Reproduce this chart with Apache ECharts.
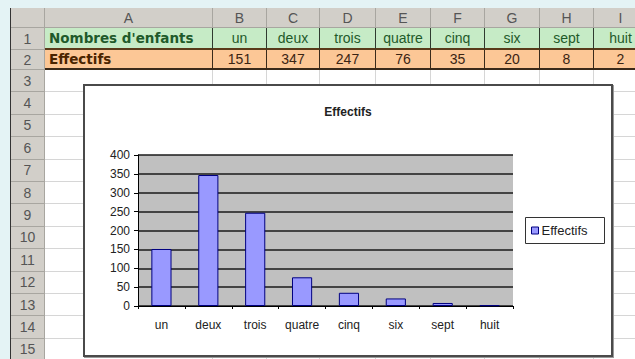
<!DOCTYPE html>
<html>
<head>
<meta charset="utf-8">
<script src="https://cdn.jsdelivr.net/npm/echarts@6/dist/echarts.min.js"></script>
<style>
  html, body { margin: 0; padding: 0; }
  body { width: 635px; height: 359px; overflow: hidden; background: #e4f3f5; position: relative;
         font-family: "Liberation Sans", Arial, sans-serif; }
  .cell { position: absolute; box-sizing: border-box; white-space: nowrap; overflow: hidden;
          display: flex; align-items: center; justify-content: center; }
  .hdr { background: #d2cfc9; color: #555; font-size: 14px;
         border-right: 1px solid #a8a6a0; border-bottom: 1px solid #a8a6a0; }
  .blank { background: #fff; border-right: 1px solid #d6d6d6; border-bottom: 1px solid #d6d6d6; }
  .r1 { background: #c6ebc6; color: #1f5a2a; font-size: 14px;
        border-right: 1px solid #2f3a2f; border-bottom: 2px solid #5a3a1a; }
  .r2 { background: #fcc796; color: #3a2414; font-size: 14px;
        border-right: 1px solid #3a2a1a; border-bottom: 2px solid #3a2a1a; }
  .lbl { font-family: "DejaVu Sans", sans-serif; font-weight: bold; font-size: 13.5px;
         justify-content: flex-start; padding-left: 4px; }
  #sheet { position: absolute; left: 10px; top: 8px; right: -20px; bottom: -20px;
           border-left: 1px solid #333; border-top: 1px solid #333; background: #fff; }
  #chartBox { position: absolute; left: 83px; top: 84px; width: 530px; height: 273px;
              box-sizing: border-box; border: 2px solid #4a4a4a; background: #fff;
              box-shadow: 1px 1px 0 #9a9a9a; }
  #chart { width: 526px; height: 269px; }
</style>
</head>
<body>
<div id="sheet"></div>
<div id="chartBox"><div id="chart"></div></div>
<script>
// Worksheet content
const columnLetters = ['A', 'B', 'C', 'D', 'E', 'F', 'G', 'H', 'I'];
const rowNumbers = [1, 2, 3, 4, 5, 6, 7, 8, 9, 10, 11, 12, 13, 14, 15];
const rowLabel1 = "Nombres d'enfants";
const rowLabel2 = 'Effectifs';

// Chart data
const categories = ['un', 'deux', 'trois', 'quatre', 'cinq', 'six', 'sept', 'huit'];
const effectifs = [151, 347, 247, 76, 35, 20, 8, 2];
const seriesName = 'Effectifs';

// Grid geometry of the sheet (page pixels)
const colEdges = [11, 45, 213, 267, 320, 376, 431, 485, 540, 594, 648];
const rowEdges = [8, 28, 50, 70];
for (let k = 1; k <= 13; k++) rowEdges.push(70 + 22.4 * k);

const sheet = document.getElementById('sheet');
function addCell(cls, x0, y0, x1, y1, text, extra) {
  const d = document.createElement('div');
  d.className = 'cell ' + cls;
  d.style.left = (x0 - 11) + 'px';
  d.style.top = (y0 - 9) + 'px';
  d.style.width = (x1 - x0) + 'px';
  d.style.height = (y1 - y0) + 'px';
  if (text !== undefined) d.textContent = text;
  if (extra) Object.assign(d.style, extra);
  sheet.appendChild(d);
  return d;
}

// corner + column headers
addCell('hdr', colEdges[0], rowEdges[0], colEdges[1], rowEdges[1]);
columnLetters.forEach((c, i) => addCell('hdr', colEdges[i + 1], rowEdges[0], colEdges[i + 2], rowEdges[1], c));

// rows
rowNumbers.forEach((n, r) => {
  const y0 = rowEdges[r + 1], y1 = rowEdges[r + 2];
  addCell('hdr', colEdges[0], y0, colEdges[1], y1, String(n));
  for (let c = 0; c < columnLetters.length; c++) {
    const x0 = colEdges[c + 1], x1 = colEdges[c + 2];
    if (n === 1) {
      if (c === 0) addCell('r1 lbl', x0, y0, x1, y1, rowLabel1);
      else addCell('r1', x0, y0, x1, y1, categories[c - 1]);
    } else if (n === 2) {
      if (c === 0) addCell('r2 lbl', x0, y0, x1, y1, rowLabel2, { color: '#4a2400' });
      else addCell('r2', x0, y0, x1, y1, String(effectifs[c - 1]));
    } else {
      addCell('blank', x0, y0, x1, y1);
    }
  }
});

// Column chart
const chart = echarts.init(document.getElementById('chart'), null, { renderer: 'svg' });
const font = '"Liberation Sans", Arial, sans-serif';
chart.setOption({
  animation: false,
  backgroundColor: '#ffffff',
  title: {
    text: seriesName,
    left: 'center',
    top: 15,
    textStyle: { fontFamily: font, fontSize: 12, fontWeight: 'bold', color: '#222' }
  },
  legend: {
    data: [seriesName],
    left: 446,
    top: 138,
    padding: 0,
    icon: 'rect',
    itemWidth: 7,
    itemHeight: 7,
    itemGap: 0,
    textStyle: { fontFamily: font, fontSize: 13, color: '#222', padding: [0, 0, 0, -2] },
    itemStyle: { color: '#9999ff', borderColor: '#000080', borderWidth: 1 }
  },
  graphic: [{
    type: 'rect',
    shape: { x: 440.5, y: 131.5, width: 79, height: 26 },
    style: { fill: 'none', stroke: '#333', lineWidth: 1 },
    z: 10
  }],
  grid: {
    left: 53, top: 69, width: 375, height: 151,
    show: true, backgroundColor: '#c0c0c0', borderWidth: 0
  },
  xAxis: {
    type: 'category',
    data: categories,
    axisLine: { lineStyle: { color: '#000', width: 1 } },
    axisTick: { show: true, alignWithLabel: false, interval: 0, length: 3, lineStyle: { color: '#000' } },
    axisLabel: { interval: 0, fontFamily: font, fontSize: 12, color: '#222', margin: 13 }
  },
  yAxis: {
    type: 'value',
    min: 0, max: 400, interval: 50,
    axisLine: { show: true, lineStyle: { color: '#000', width: 1 } },
    axisTick: { show: true, length: 4, lineStyle: { color: '#000' } },
    axisLabel: { fontFamily: font, fontSize: 12, color: '#222', margin: 8 },
    splitLine: { lineStyle: { color: '#1a1a1a', width: 1.5 } }
  },
  series: [{
    name: seriesName,
    type: 'bar',
    data: effectifs,
    barWidth: '43%',
    itemStyle: { color: '#9999ff', borderColor: '#000080', borderWidth: 1 }
  }]
});
</script>
</body>
</html>
